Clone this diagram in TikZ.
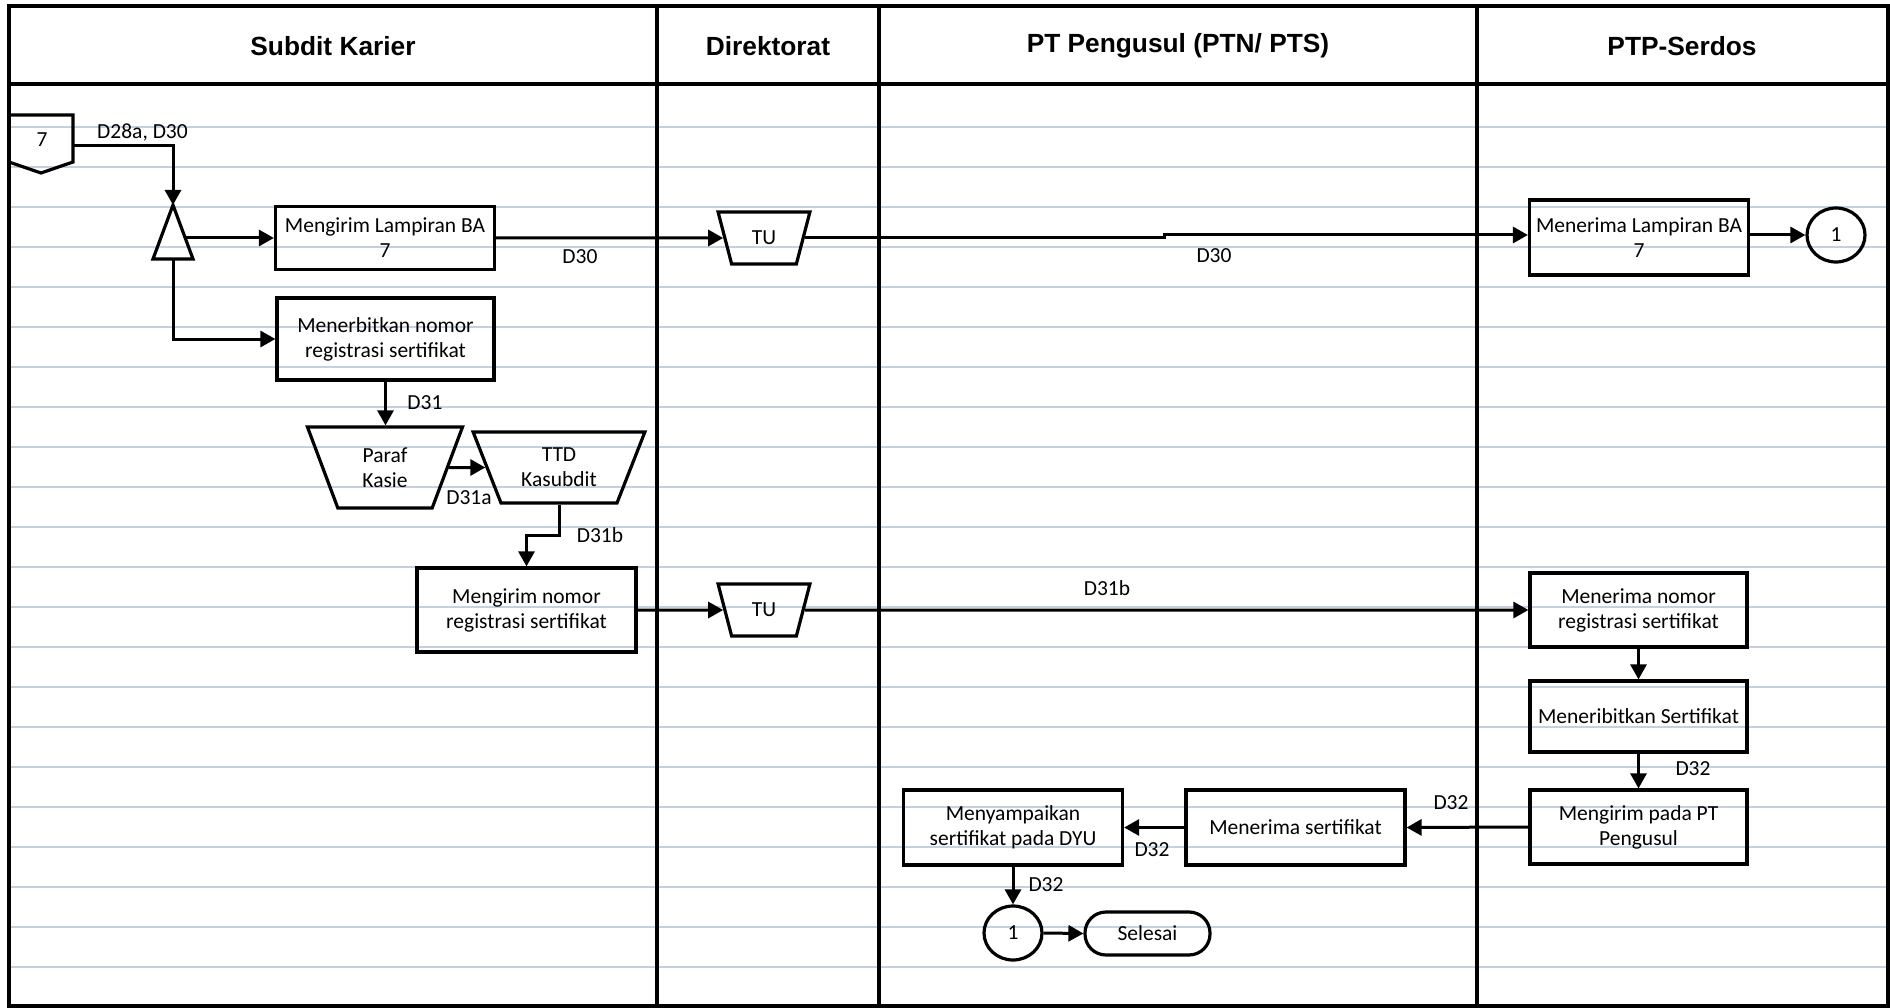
\documentclass[tikz,border=0pt]{standalone}
\usepackage{fontspec}
\setmainfont{Carlito}
\newfontfamily\hdrfont{Liberation Sans}
\usetikzlibrary{shapes.geometric,arrows.meta}
\definecolor{gridc}{RGB}{198,208,223}
\begin{document}
\begin{tikzpicture}[x=1pt,y=-1pt,
  bodyfont/.style={font=\fontsize{21.5}{25}\selectfont},
  hdr/.style={font=\hdrfont\bfseries\fontsize{26.3}{30}\selectfont},
  gridline/.style={draw=gridc, line width=2.6pt},
  frame/.style={line width=4pt},
  box/.style={draw, line width=3.2pt, rectangle, align=center, inner sep=0pt, bodyfont},
  manop/.style={draw, line width=3.2pt, trapezium, shape border rotate=180, trapezium stretches=true, align=center, inner sep=0pt, bodyfont},
  conn/.style={line width=3.2pt, line join=miter},
  arr/.style={line width=3pt, -{Triangle[length=15pt,width=16pt]}},
  lbl/.style={inner sep=0pt, bodyfont},
  ]
\useasboundingbox (0,0) rectangle (1890,1008);
% grid lines
\foreach \yy in {127,167,...,967} {\draw[gridline] (9,\yy) -- (1888,\yy);}
% frame and lanes
\draw[frame] (9,6) rectangle (1888,1006);
\draw[frame] (9,84) -- (1888,84);
\foreach \xx in {657,879,1477} {\draw[frame] (\xx,6) -- (\xx,1006);}
\node[hdr] (h1) at (333,46) {Subdit Karier};
\node[hdr] (h2) at (768,46) {Direktorat};
\node[hdr] (h3) at (1178,46) {PT Pengusul (PTN/ PTS)};
\node[hdr] (h4) at (1682,46) {PTP-Serdos};

% off-page connector 7
\draw[conn] (9,115) -- (73,115) -- (73,162) -- (41,173) -- (9,162) -- cycle;
\node[lbl] (off7) at (42,140) {7};
\coordinate (o7out) at (73,146);
% triangle
\draw[conn] (173,205) -- (193,259) -- (153,259) -- cycle;
\coordinate (tritop) at (173,205);
\coordinate (triright) at (185,238);
\coordinate (tribot) at (173,259);

% nodes
\node[box, minimum width=219, minimum height=63] (box1) at (385,238) {Mengirim Lampiran BA\\7};
\node[box, minimum width=217, minimum height=82] (box2) at (385.5,339) {Menerbitkan nomor\\registrasi sertifikat};
\node[manop, minimum width=156, minimum height=81, trapezium left angle=70, trapezium right angle=70] (paraf) at (385,467.5) {Paraf\\Kasie};
\node[manop, minimum width=172, minimum height=71, trapezium left angle=65, trapezium right angle=65] (ttd) at (559,467.5) {TTD\\Kasubdit};
\node[box, minimum width=219, minimum height=84] (box3) at (526.5,610) {Mengirim nomor\\registrasi sertifikat};
\node[manop, minimum width=92, minimum height=52, trapezium left angle=70, trapezium right angle=70] (tu1) at (764,238) {TU};
\node[manop, minimum width=92, minimum height=52, trapezium left angle=70, trapezium right angle=70] (tu2) at (764,610) {TU};
\node[box, minimum width=219, minimum height=75] (box4) at (1639,237.5) {Menerima Lampiran BA\\7};
\node[draw, ellipse, line width=3.2pt, minimum width=58, minimum height=54, inner sep=0pt, bodyfont] (c1) at (1836,235) {1};
\node[box, minimum width=217, minimum height=74] (box5) at (1638.5,610) {Menerima nomor\\registrasi sertifikat};
\node[box, minimum width=217, minimum height=71] (box6) at (1638.5,716.5) {Meneribitkan Sertifikat};
\node[box, minimum width=217, minimum height=74] (box7) at (1638.5,827) {Mengirim pada PT\\Pengusul};
\node[box, minimum width=219, minimum height=75] (box8) at (1295.5,827.5) {Menerima sertifikat};
\node[box, minimum width=219, minimum height=75] (box9) at (1013,827.5) {Menyampaikan\\sertifikat pada DYU};
\node[draw, ellipse, line width=3.2pt, minimum width=58, minimum height=54, inner sep=0pt, bodyfont] (c2) at (1013,933) {1};
\node[draw, rectangle, rounded corners=21pt, line width=3.2pt, minimum width=125, minimum height=43, inner sep=0pt, bodyfont] (sel) at (1147.5,933.5) {Selesai};

% labels
\node[lbl, anchor=west] (l1) at (97,133) {D28a, D30};
\node[lbl] (l2) at (580,257) {D30};
\node[lbl] (l3) at (1214,256) {D30};
\node[lbl] (l4) at (425,403) {D31};
\node[lbl] (l5) at (469,498) {D31a};
\node[lbl] (l6) at (600,535) {D31b};
\node[lbl] (l7) at (1107,588) {D31b};
\node[lbl] (l8) at (1693,769) {D32};
\node[lbl] (l9) at (1451,803) {D32};
\node[lbl] (l10) at (1152,850) {D32};
\node[lbl] (l11) at (1046,885) {D32};

% connectors
\draw[arr] (o7out) -| (tritop);
\draw[arr] (triright) -- (box1.west);
\draw[arr] (tribot) |- (box2.west);
\draw[arr] (box2.south) -- (box2.south |- paraf.north);
\draw[arr] (paraf.east) -- (ttd.west);
\draw[arr] (ttd.south) -- ++(0,31) -| (box3.north);
\draw[arr] (box1.east) -- (tu1.west);
\coordinate (jog) at (1164,235);
\draw[arr] (tu1.east) -| (jog) -- (jog -| box4.west);
\draw[arr] (c1.west -| box4.east) -- (c1.west);
\draw[arr] (box3.east) -- (tu2.west);
\draw[arr] (tu2.east) -- (box5.west);
\draw[arr] (box5.south) -- (box6.north);
\draw[arr] (box6.south) -- (box7.north);
\draw[arr] (box7.west) -- (box8.east);
\draw[arr] (box8.west) -- (box9.east);
\draw[arr] (box9.south) -- (c2.north);
\draw[arr] (c2.east) -- (sel.west);
\end{tikzpicture}
\end{document}
